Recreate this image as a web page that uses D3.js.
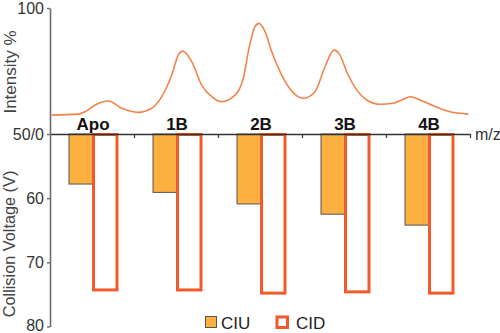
<!DOCTYPE html>
<html><head><meta charset="utf-8">
<script src="https://cdn.jsdelivr.net/npm/d3@7/dist/d3.min.js"></script>
<style>body{margin:0;background:#fff}svg{display:block}text{font-family:"Liberation Sans",Arial,sans-serif}</style>
</head><body><svg id="c" width="500" height="333"></svg>
<script>
const categories = ["Apo","1B","2B","3B","4B"];
const ciuValues = [57.8, 59.1, 60.9, 62.5, 64.2];
const cidValues = [74.3, 74.3, 74.8, 74.6, 74.8];
const voltageTicks = [50,60,70,80];
const intensityTicks = [100];
// spectrum: position along m/z axis (in category units) and intensity %
const specX = [0.02,0.337,0.417,0.536,0.694,0.854,1.051,1.211,1.330,1.449,1.527,1.581,1.687,1.806,1.925,2.044,2.182,2.301,2.369,2.440,2.488,2.560,2.639,2.758,2.877,3.015,3.155,3.274,3.381,3.452,3.532,3.651,3.770,3.929,4.087,4.187,4.294,4.405,4.563,4.762,4.980];
const specY = [57.5,57.9,58.8,61.5,63.1,60.2,58.6,60.2,64.8,73.4,81.3,82.9,78.7,69.4,64.8,62.8,64.8,72.1,84.0,92.6,93.9,90.6,82.7,73.4,67.1,64.2,66.8,76.7,83.3,81.3,74.7,67.5,63.5,61.8,62.2,63.5,64.8,63.5,61.2,58.8,57.9];

const svg = d3.select("#c");
const x0 = 50, x1 = 470, yBase = 134;
const mz = d3.scaleLinear().domain([0,5]).range([x0,x1]);
const xBand = d3.scaleBand().domain(categories).range([x0,x1]).padding(0);
const inner = d3.scaleBand().domain(["CIU","CID"]).range([19,67]).padding(0);
const yV = d3.scaleLinear().domain([50,80]).range([yBase,326.5]);
const yI = d3.scaleLinear().domain([50,100]).range([yBase,8]);

const ciuFill = "#fbb040", cidStroke = "#f15a2b", lineCol = "#f6824a";

// bars
const g = svg.append("g");
categories.forEach((c,i)=>{
  const bx = xBand(c);
  g.append("rect").attr("x", bx+inner("CIU")).attr("y", yV(50))
    .attr("width", inner.bandwidth()).attr("height", yV(ciuValues[i])-yV(50))
    .attr("fill", ciuFill).attr("stroke","#555").attr("stroke-width",1);
  g.append("rect").attr("x", bx+inner("CID")+0.5).attr("y", yV(50)+0.5)
    .attr("width", inner.bandwidth()-0.5).attr("height", yV(cidValues[i])-yV(50)-0.5)
    .attr("fill", "#fff").attr("stroke",cidStroke).attr("stroke-width",3);
});

// spectrum line
const line = d3.line().x((d,i)=>mz(specX[i])).y((d,i)=>yI(specY[i])).curve(d3.curveMonotoneX);
svg.append("path").datum(specY).attr("d", line).attr("fill","none")
  .attr("stroke", lineCol).attr("stroke-width",1.6);

// x axis (m/z baseline)
const xAx = svg.append("g").attr("transform",`translate(0,${yBase})`)
  .call(d3.axisBottom(mz).tickValues([1,2,3,4,5]).tickFormat("").tickSize(4).tickSizeOuter(0));
xAx.select(".domain").attr("stroke","#333").attr("stroke-width",1.3);
xAx.selectAll(".tick line").attr("stroke","#333").attr("stroke-width",1.2);

// y axes
const styleAxis = a => {
  a.select(".domain").attr("stroke","#6b6b6b").attr("stroke-width",1.6);
  a.selectAll(".tick line").attr("stroke","#6b6b6b").attr("stroke-width",1.4);
  a.selectAll(".tick text").attr("font-size",16).attr("fill","#333").attr("font-family","Liberation Sans, Arial, sans-serif");
};
const yAx1 = svg.append("g").attr("transform",`translate(${x0},0)`)
  .call(d3.axisLeft(yI).tickValues(intensityTicks).tickSize(3).tickSizeOuter(0).tickPadding(3));
styleAxis(yAx1);
const yAx2 = svg.append("g").attr("transform",`translate(${x0},0)`)
  .call(d3.axisLeft(yV).tickValues(voltageTicks).tickSize(3).tickSizeOuter(0).tickPadding(3)
    .tickFormat(d=> d===50 ? "50/0" : d));
styleAxis(yAx2);
yAx2.selectAll(".tick text").filter(d=>d===80).attr("dy","0.22em");

// category labels
svg.selectAll(".cat").data(categories).join("text")
  .attr("x", d=>xBand(d)+xBand.bandwidth()/2+1).attr("y", 129.5)
  .attr("text-anchor","middle").attr("font-size",17).attr("font-weight","bold").attr("fill","#111")
  .text(d=>d);

// axis titles
svg.append("text").attr("transform","translate(16,72) rotate(-90)").attr("text-anchor","middle")
  .attr("font-size",17).attr("fill","#444").text("Intensity %");
svg.append("text").attr("transform","translate(15,244) rotate(-90)").attr("text-anchor","middle")
  .attr("font-size",16.3).attr("fill","#444").text("Collision Voltage (V)");
svg.append("text").attr("x",475).attr("y",yBase+5.5).attr("font-size",16).attr("fill","#333").text("m/z");

// legend
const leg = svg.append("g");
leg.append("rect").attr("x",205.5).attr("y",316.5).attr("width",11).attr("height",11)
  .attr("fill",ciuFill).attr("stroke","#555").attr("stroke-width",1);
leg.append("text").attr("x",221).attr("y",329).attr("font-size",17).attr("fill","#222").text("CIU");
leg.append("rect").attr("x",277).attr("y",317).attr("width",10.5).attr("height",10.5)
  .attr("fill","#fff").attr("stroke",cidStroke).attr("stroke-width",3);
leg.append("text").attr("x",296).attr("y",329).attr("font-size",17).attr("fill","#222").text("CID");
</script></body></html>
